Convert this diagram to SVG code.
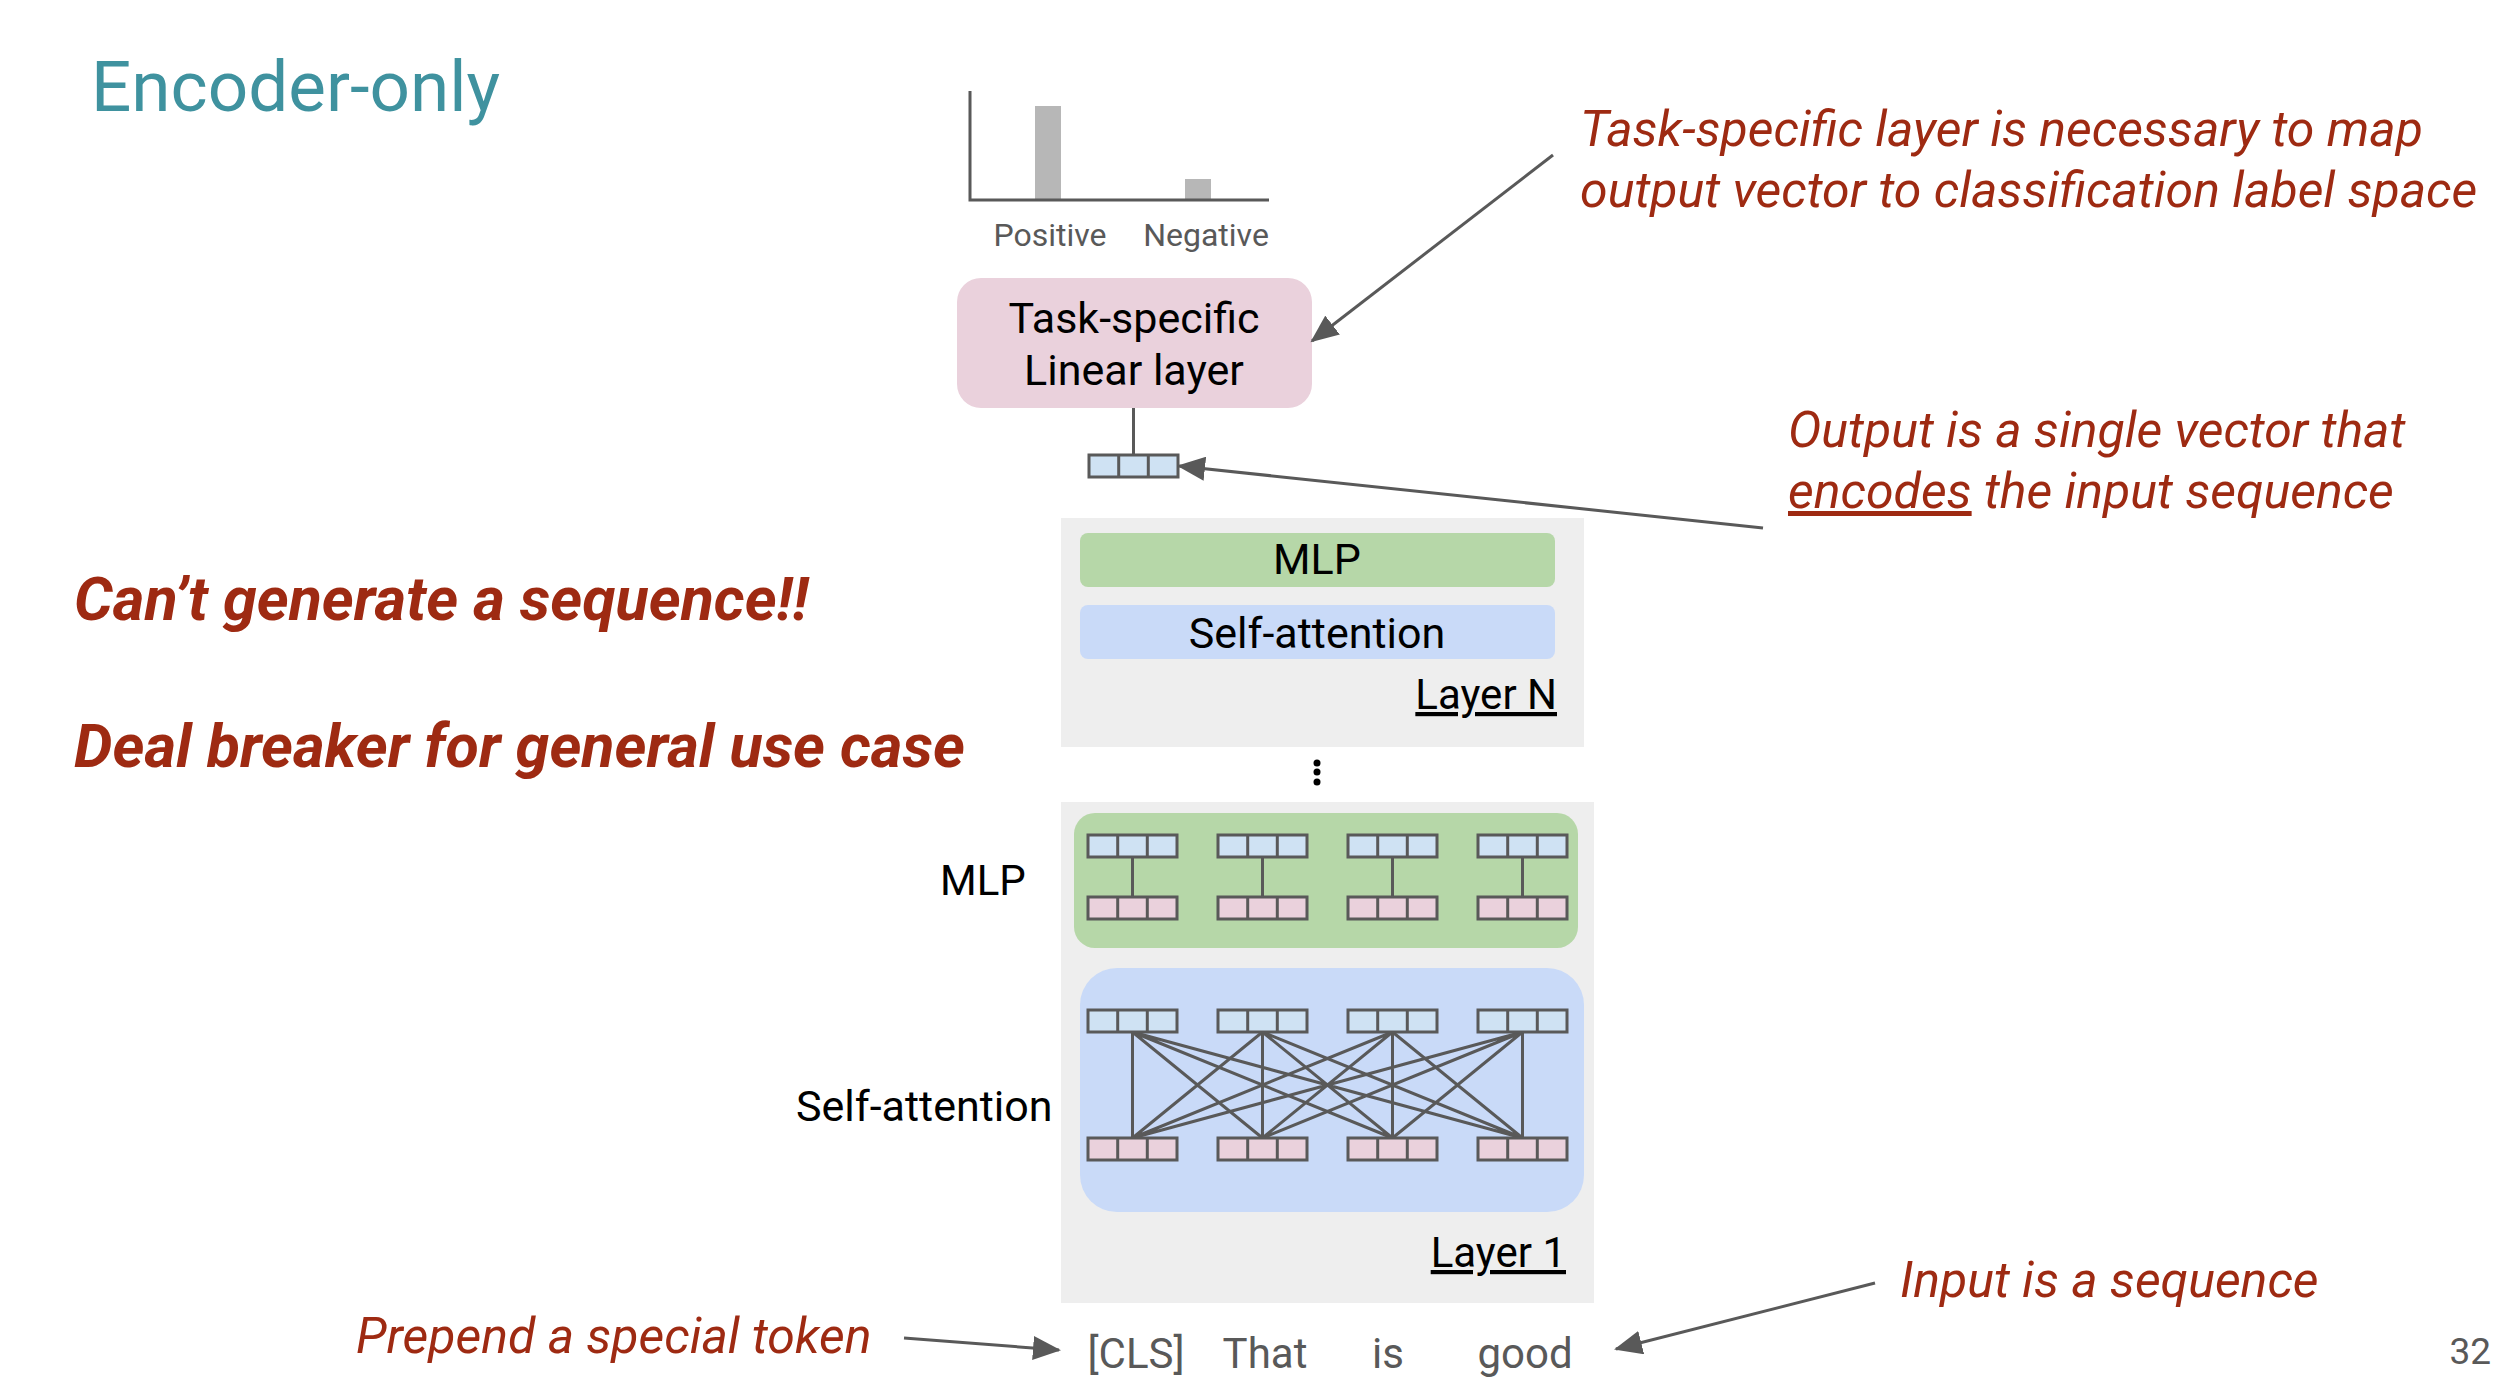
<svg xmlns="http://www.w3.org/2000/svg" xmlns:xlink="http://www.w3.org/1999/xlink" width="2502" height="1396" viewBox="0 0 2502 1396">
<style>
text{font-family:Roboto,"Liberation Sans",sans-serif}
.red{fill:#9e2a12;font-style:italic}
.blk{fill:#000}
.gry{fill:#595959}
.ln{stroke:#595959;stroke-width:3;fill:none}
.cellb{fill:#cfe2f3;stroke:#595959;stroke-width:3}
.cellp{fill:#ead1dc;stroke:#595959;stroke-width:3}
.arr{stroke:#595959;stroke-width:3;fill:none;marker-end:url(#ah)}
</style>
<defs>
<marker id="ah" markerUnits="userSpaceOnUse" markerWidth="30" markerHeight="24" refX="26" refY="12" orient="auto">
<path d="M0,0 L28,12 L0,24 Z" fill="#595959"/>
</marker>
<g id="vb"><rect class="cellb" x="0" y="0" width="89" height="22"/><line class="ln" x1="29.7" y1="0" x2="29.7" y2="22"/><line class="ln" x1="59.3" y1="0" x2="59.3" y2="22"/></g>
<g id="vp"><rect class="cellp" x="0" y="0" width="89" height="22"/><line class="ln" x1="29.7" y1="0" x2="29.7" y2="22"/><line class="ln" x1="59.3" y1="0" x2="59.3" y2="22"/></g>
</defs>
<rect width="2502" height="1396" fill="#fff"/>

<text id="title" x="91" y="111" font-size="71" fill="#3f929f">Encoder-only</text>

<g id="chart">
<rect x="1035" y="106" width="26" height="94" fill="#b7b7b7"/>
<rect x="1185" y="179" width="26" height="21" fill="#b7b7b7"/>
<path class="ln" d="M970,91 V200 H1269"/>
<text class="gry" x="1050" y="246" font-size="32" text-anchor="middle">Positive</text>
<text class="gry" x="1206" y="246" font-size="32" text-anchor="middle">Negative</text>
</g>

<g id="task-layer">
<rect x="957" y="278" width="355" height="130" rx="24" fill="#ead1dc"/>
<text class="blk" x="1134" y="333" font-size="43" text-anchor="middle">Task-specific</text>
<text class="blk" x="1134" y="385" font-size="43" text-anchor="middle">Linear layer</text>
</g>

<g id="output-vector">
<use xlink:href="#vb" x="1089" y="455"/>
</g>

<g id="layer-n">
<rect x="1061" y="518" width="523" height="229" fill="#eeeeee"/>
<rect x="1080" y="533" width="475" height="54" rx="8" fill="#b6d7a8"/>
<text class="blk" x="1317" y="574" font-size="43" text-anchor="middle">MLP</text>
<rect x="1080" y="605" width="475" height="54" rx="8" fill="#c9daf8"/>
<text class="blk" x="1317" y="648" font-size="43" text-anchor="middle">Self-attention</text>
<text class="blk" x="1557" y="709" font-size="42" text-anchor="end" text-decoration="underline">Layer N</text>
</g>

<g id="ellipsis" fill="#000">
<circle cx="1317" cy="763" r="3.5"/><circle cx="1317" cy="772" r="3.5"/><circle cx="1317" cy="782" r="3.5"/>
</g>

<g id="layer-1">
<rect x="1061" y="802" width="533" height="501" fill="#eeeeee"/>
<rect x="1074" y="813" width="504" height="135" rx="21" fill="#b6d7a8"/>
<rect x="1080" y="968" width="504" height="244" rx="37" fill="#c9daf8"/>
<text class="blk" x="1566" y="1267" font-size="42" text-anchor="end" text-decoration="underline">Layer 1</text>
</g>

<g id="connectors">
<line class="ln" x1="1133.5" y1="408" x2="1133.5" y2="455"/>
<line class="ln" x1="1132.5" y1="857" x2="1132.5" y2="897"/>
<line class="ln" x1="1262.5" y1="857" x2="1262.5" y2="897"/>
<line class="ln" x1="1392.5" y1="857" x2="1392.5" y2="897"/>
<line class="ln" x1="1522.5" y1="857" x2="1522.5" y2="897"/>
<path class="ln" d="M1132.5,1032 L1132.5,1138 M1132.5,1032 L1262.5,1138 M1132.5,1032 L1392.5,1138 M1132.5,1032 L1522.5,1138
M1262.5,1032 L1132.5,1138 M1262.5,1032 L1262.5,1138 M1262.5,1032 L1392.5,1138 M1262.5,1032 L1522.5,1138
M1392.5,1032 L1132.5,1138 M1392.5,1032 L1262.5,1138 M1392.5,1032 L1392.5,1138 M1392.5,1032 L1522.5,1138
M1522.5,1032 L1132.5,1138 M1522.5,1032 L1262.5,1138 M1522.5,1032 L1392.5,1138 M1522.5,1032 L1522.5,1138"/>
<line class="arr" x1="1553" y1="155" x2="1312" y2="341"/>
<line class="arr" x1="1763" y1="528" x2="1179" y2="466"/>
<line class="arr" x1="904" y1="1338" x2="1059" y2="1350"/>
<line class="arr" x1="1875" y1="1283" x2="1616" y2="1349"/>
</g>

<g id="mlp-vectors">
<use xlink:href="#vb" x="1088" y="835"/><use xlink:href="#vb" x="1218" y="835"/><use xlink:href="#vb" x="1348" y="835"/><use xlink:href="#vb" x="1478" y="835"/>
<use xlink:href="#vp" x="1088" y="897"/><use xlink:href="#vp" x="1218" y="897"/><use xlink:href="#vp" x="1348" y="897"/><use xlink:href="#vp" x="1478" y="897"/>
</g>
<g id="attn-vectors">
<use xlink:href="#vb" x="1088" y="1010"/><use xlink:href="#vb" x="1218" y="1010"/><use xlink:href="#vb" x="1348" y="1010"/><use xlink:href="#vb" x="1478" y="1010"/>
<use xlink:href="#vp" x="1088" y="1138"/><use xlink:href="#vp" x="1218" y="1138"/><use xlink:href="#vp" x="1348" y="1138"/><use xlink:href="#vp" x="1478" y="1138"/>
</g>

<g id="side-labels">
<text class="blk" x="940" y="895" font-size="42">MLP</text>
<text class="blk" x="796" y="1121" font-size="43">Self-attention</text>
</g>

<g id="tokens">
<text class="gry" x="1136" y="1368" font-size="42" text-anchor="middle">[CLS]</text>
<text class="gry" x="1265" y="1368" font-size="42" text-anchor="middle">That</text>
<text class="gry" x="1388" y="1368" font-size="42" text-anchor="middle">is</text>
<text class="gry" x="1525" y="1368" font-size="42" text-anchor="middle">good</text>
</g>

<g id="annotations">
<text class="red" x="1580" y="146" font-size="50">Task-specific layer is necessary to map</text>
<text class="red" x="1580" y="207" font-size="50">output vector to classification label space</text>
<text class="red" x="1788" y="447" font-size="50">Output is a single vector that</text>
<text class="red" x="1788" y="508" font-size="50"><tspan text-decoration="underline">encodes</tspan> the input sequence</text>
<text class="red" x="74" y="620" font-size="61" font-weight="bold">Can’t generate a sequence!!</text>
<text class="red" x="74" y="767" font-size="61" font-weight="bold">Deal breaker for general use case</text>
<text class="red" x="356" y="1353" font-size="50">Prepend a special token</text>
<text class="red" x="1900" y="1297" font-size="50">Input is a sequence</text>
</g>

<text id="page-number" class="gry" x="2491" y="1364" font-size="37" text-anchor="end">32</text>
</svg>
